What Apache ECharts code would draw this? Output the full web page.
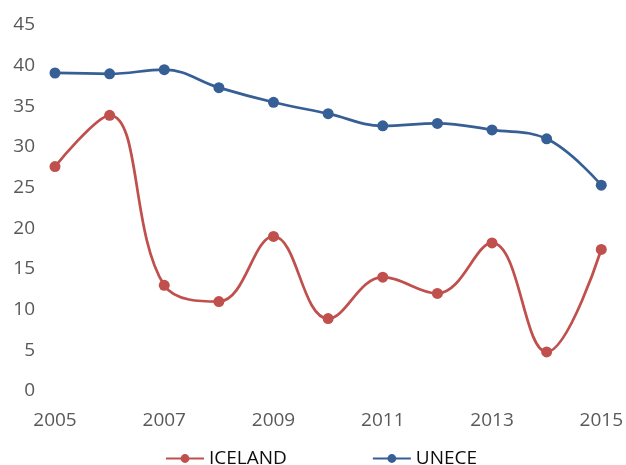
<!DOCTYPE html>
<html>
<head>
<meta charset="utf-8">
<script src="https://cdn.jsdelivr.net/npm/echarts@6/dist/echarts.min.js"></script>
<style>html,body{margin:0;padding:0;background:#fff}#c{width:626px;height:465px}</style>
</head>
<body>
<div id="c"></div>
<script>
const years = ['2005','2006','2007','2008','2009','2010','2011','2012','2013','2014','2015'];
const iceland = [27.6, 33.9, 13.0, 11.0, 19.0, 8.9, 14.0, 12.0, 18.2, 4.8, 17.4];
const unece = [39.1, 39.0, 39.5, 37.3, 35.5, 34.1, 32.6, 32.9, 32.1, 31.0, 25.3];
const yTicks = {min: 0, max: 45, interval: 5};

const chart = echarts.init(document.getElementById('c'));
const font = 'Open Sans';
chart.setOption({
  animation: false,
  grid: {left: 55, right: 23, top: 25, bottom: 74},
  xAxis: {
    type: 'category', data: years, boundaryGap: false,
    axisLine: {show: false}, axisTick: {show: false},
    axisLabel: {interval: 1, color: '#595959', fontSize: 19, fontFamily: font, margin: 20}
  },
  yAxis: {
    type: 'value', min: yTicks.min, max: yTicks.max, interval: yTicks.interval,
    splitLine: {show: false}, axisLine: {show: false}, axisTick: {show: false},
    axisLabel: {color: '#595959', fontSize: 19, fontFamily: font, margin: 20}
  },
  legend: {
    bottom: -8, left: 160, itemWidth: 38, itemHeight: 11, itemGap: 85,
    textStyle: {color: '#0d0d0d', fontSize: 19, fontFamily: font},
    data: ['ICELAND', 'UNECE']
  },
  series: [
    {name: 'ICELAND', type: 'line', data: iceland, smooth: 0.4, symbol: 'circle', symbolSize: 11,
     lineStyle: {width: 2.75, color: '#C0504D'}, itemStyle: {color: '#C0504D'}},
    {name: 'UNECE', type: 'line', data: unece, smooth: 0.4, symbol: 'circle', symbolSize: 11,
     lineStyle: {width: 2.75, color: '#365F95'}, itemStyle: {color: '#365F95'}}
  ]
});
</script>
</body>
</html>
